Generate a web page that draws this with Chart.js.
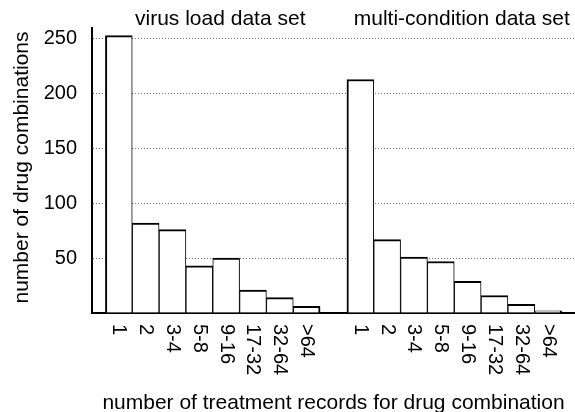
<!DOCTYPE html>
<html lang="en">
<head>
    <meta charset="UTF-8">
    <title>Drug combinations per treatment records</title>
    <script src="https://cdn.jsdelivr.net/npm/chart.js"></script>
    <style>
        body {
            margin: 0;
            background: white;
        }
        canvas {
            display: block;
        }
    </style>
</head>
<body>

    <canvas id="histChart" width="575" height="412"></canvas>

    <script>
        const groupTitles = ["virus load data set", "multi-condition data set"];
        const binLabels = ["1", "2", "3-4", "5-8", "9-16", "17-32", "32-64", ">64"];
        const virusLoadCounts = [253, 82, 76, 43, 50, 21, 14, 6];
        const multiConditionCounts = [213, 67, 51, 47, 29, 16, 8, 2];
        const yMax = 260;
        const yStep = 50;

        const fontFamily = "'Liberation Sans', Arial, Helvetica, sans-serif";
        const n = binLabels.length;

        // one blank slot before, between and after the two groups
        const labels = ["", ...binLabels, "", ...binLabels, ""];
        const counts = [null, ...virusLoadCounts, null, ...multiConditionCounts, null];

        const textPlugin = {
            id: "texts",
            afterDraw(chart) {
                const ctx = chart.ctx;
                const xs = chart.scales.x;
                const area = chart.chartArea;
                ctx.save();
                ctx.fillStyle = "#000";

                // rotated bin labels, reading top to bottom
                ctx.font = "20px " + fontFamily;
                ctx.textAlign = "left";
                ctx.textBaseline = "middle";
                labels.forEach((lab, i) => {
                    if (!lab) return;
                    ctx.save();
                    ctx.translate(xs.getPixelForValue(i), area.bottom + 11);
                    ctx.rotate(Math.PI / 2);
                    ctx.fillText(lab, 0, 0);
                    ctx.restore();
                });

                // group titles
                ctx.font = "21px " + fontFamily;
                ctx.textAlign = "center";
                ctx.textBaseline = "alphabetic";
                groupTitles.forEach((t, g) => {
                    const first = 1 + g * (n + 1);
                    const cx = (xs.getPixelForValue(first) + xs.getPixelForValue(first + n - 1)) / 2;
                    ctx.fillText(t, cx + 7.5, area.top - 3);
                });

                // axis titles
                ctx.fillText("number of treatment records for drug combination", (area.left + area.right) / 2, 409);
                ctx.save();
                ctx.translate(28, (area.top + area.bottom) / 2 - 3);
                ctx.rotate(-Math.PI / 2);
                ctx.fillText("number of drug combinations", 0, 0);
                ctx.restore();

                ctx.restore();
            }
        };

        const ctx = document.getElementById("histChart").getContext("2d");
        const histChart = new Chart(ctx, {
            type: "bar",
            data: {
                labels: labels,
                datasets: [{
                    data: counts,
                    backgroundColor: "#fff",
                    borderColor: "#000",
                    borderSkipped: "start",
                    borderWidth: c => {
                        const pos = (c.dataIndex - 1) % (n + 1);
                        return {
                            top: 2,
                            left: pos === 0 ? 2 : 1,
                            right: pos === n - 1 ? 2 : 1,
                            bottom: 0
                        };
                    },
                    barPercentage: 1,
                    categoryPercentage: 1
                }]
            },
            options: {
                responsive: false,
                animation: false,
                layout: { padding: { top: 28, right: 0, bottom: 0, left: 0 } },
                plugins: {
                    legend: { display: false },
                    tooltip: { enabled: false }
                },
                scales: {
                    x: {
                        offset: false,
                        ticks: { display: false },
                        grid: { drawOnChartArea: false, drawTicks: false },
                        border: { color: "#000", width: 2 },
                        afterFit: s => { s.height = 99; }
                    },
                    y: {
                        min: 0,
                        max: yMax,
                        ticks: {
                            stepSize: yStep,
                            includeBounds: false,
                            padding: 15,
                            color: "#000",
                            font: { size: 20, family: fontFamily },
                            callback: v => v === 0 ? "" : v
                        },
                        grid: { color: "#777", lineWidth: 1, drawTicks: false },
                        border: { color: "#000", width: 2, dash: [1, 2] },
                        afterFit: s => { s.width = 92; }
                    }
                }
            },
            plugins: [textPlugin]
        });
    </script>

</body>
</html>
